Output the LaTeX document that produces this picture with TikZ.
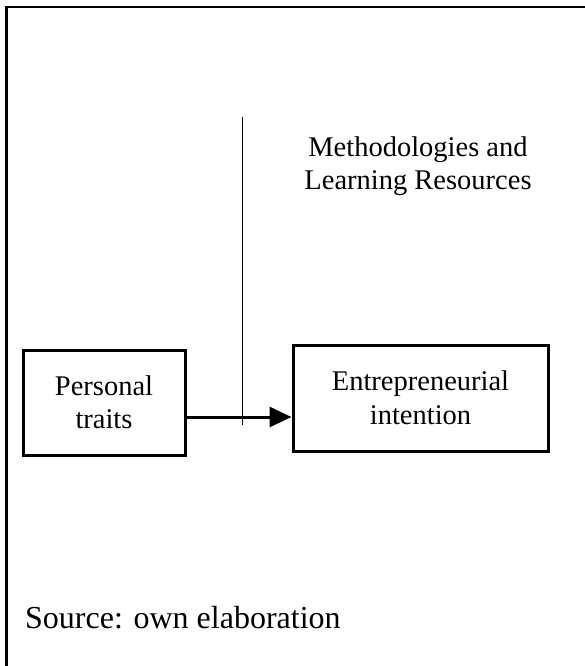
\documentclass[tikz,border=0pt]{standalone}
\usepackage{fontspec}
\setmainfont{Liberation Serif}
\usetikzlibrary{arrows.meta,positioning}

\begin{document}
\begin{tikzpicture}[
  x=1pt,y=-1pt,
  box/.style={draw=black,line width=3pt,align=center,inner sep=0pt,
    font=\fontsize{28.5}{33}\selectfont},
  lbl/.style={align=center,inner sep=0pt,font=\fontsize{28.5}{33}\selectfont},
  arr/.style={-{Triangle[length=22pt,width=20pt]},line width=3pt}
]
\useasboundingbox (0,0) rectangle (585,666);
% frame, cut at the right and at the bottom
\draw[line width=2.4pt] (6.5,666) -- (6.5,7) -- (585,7);
\node[box,minimum width=162pt,minimum height=105pt] (traits) at (104,402.5)
  {Personal\\traits};
\node[box,minimum width=255pt,minimum height=106pt] (intent) at (420.5,398)
  {Entrepreneurial\\[1pt]intention};
\coordinate (aout) at ([yshift=-14.5pt]traits.east);
\draw[arr] (aout) -- (aout -| intent.west);
\node[lbl] (method) at (418,166) {Methodologies and\\Learning Resources};
\coordinate (mtop) at (242,117);
\coordinate (mbot) at (242,425);
\draw[line width=1pt] (mtop) -- (mbot);
\node[anchor=base west,inner sep=0pt,font=\fontsize{32}{36}\selectfont]
  (source) at (25,628) {Source: own elaboration};
\end{tikzpicture}
\end{document}
